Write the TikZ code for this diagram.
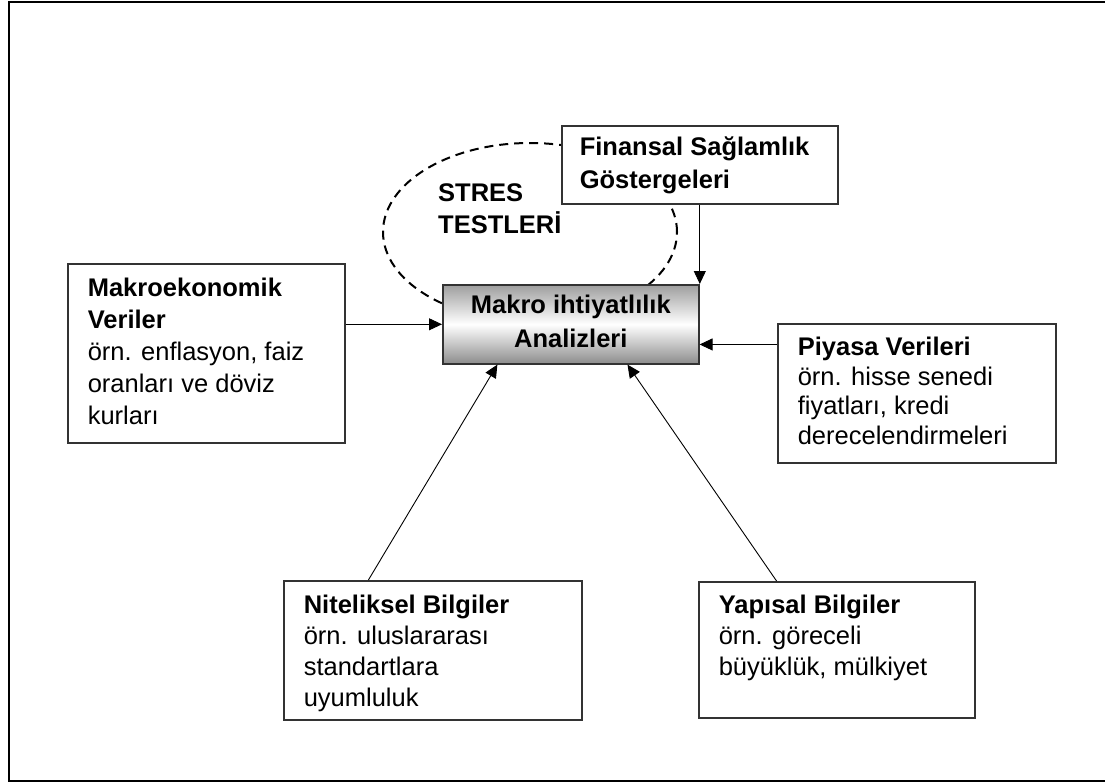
\documentclass[tikz,border=0pt]{standalone}
\usepackage{fontspec}
\setmainfont{Liberation Sans}
\usetikzlibrary{arrows.meta,calc}

% body of a text panel: width, height, first-baseline strut, lines
\newcommand{\panelbody}[4]{%
  \parbox[c][#2][t]{#1}{\raggedright\rule{0pt}{#3}#4}}

\tikzset{
  panel/.style={draw=black!80, line width=1.6pt, fill=white, inner sep=0pt,
    anchor=north west, font=\fontsize{25.5}{31}\selectfont},
  hub/.style={draw=black!80, line width=1.6pt, top color=black!38,
    bottom color=black!45, middle color=white, inner sep=0pt,
    anchor=north west, align=center, text depth=7pt,
    font=\bfseries\fontsize{25.5}{34}\selectfont},
  link/.style={line width=0.9pt, -{Triangle[length=13pt,width=12pt]}},
  loop/.style={line width=2pt, dash pattern=on 9pt off 6pt},
  frame/.style={line width=2.5pt}
}

\begin{document}
\begin{tikzpicture}[x=1pt, y=-1pt]
  \useasboundingbox (0,0) rectangle (1105,782);
  \clip (0,0) rectangle (1105,782);

  % outer frame
  \draw[frame] (9,1.8) rectangle (1115,781);

  % stress-test loop around the analysis box
  \draw[loop] (530,232) ellipse [x radius=147pt, y radius=89pt];
  \node[anchor=base west, inner sep=0pt, font=\bfseries\fontsize{25.5}{32}\selectfont]
    (stres) at (438,201) {\parbox[t]{160pt}{\raggedright STRES\\TESTLERİ}};

  % input panels
  \node[panel, minimum width=276pt] (fin) at (561,125)
    {\panelbody{240pt}{78pt}{30pt}{\fontsize{25.5}{33}\selectfont\textbf{Finansal Sağlamlık}\\\textbf{Göstergeleri}}};
  \node[panel, minimum width=277pt] (makro) at (67,263)
    {\panelbody{237pt}{179pt}{33pt}{\fontsize{25.5}{32}\selectfont\textbf{Makroekonomik}\\\textbf{Veriler}\\örn. enflasyon, faiz\\oranları ve döviz\\kurları}};
  \node[panel, minimum width=278pt] (piyasa) at (777,323)
    {\panelbody{238pt}{139pt}{32pt}{\fontsize{25.5}{29.5}\selectfont\textbf{Piyasa Verileri}\\örn. hisse senedi\\fiyatları, kredi\\derecelendirmeleri}};
  \node[panel, minimum width=298pt] (nit) at (283,580)
    {\panelbody{258pt}{139pt}{33pt}{\textbf{Niteliksel Bilgiler}\\örn. uluslararası\\standartlara\\uyumluluk}};
  \node[panel, minimum width=276pt] (yap) at (698,581)
    {\panelbody{236pt}{136pt}{32pt}{\textbf{Yapısal Bilgiler}\\örn. göreceli\\büyüklük, mülkiyet}};

  % central analysis box
  \node[hub, minimum width=256pt, minimum height=79pt] (hub) at (442,284)
    {Makro ihtiyatlılık\\Analizleri};

  % connectors
  \coordinate (hubE) at ($(hub.south east)!0.25!(hub.north east)$);
  \coordinate (nitTop) at ($(nit.north west)!0.285!(nit.north east)$);
  \coordinate (hubSW) at ($(hub.south west)!0.215!(hub.south east)$);
  \coordinate (yapTop) at ($(yap.north west)!0.283!(yap.north east)$);
  \coordinate (hubSE) at ($(hub.south west)!0.72!(hub.south east)$);

  \draw[link] (fin.south) -- (fin.south |- hub.north);
  \draw[link] (makro.east |- hub.west) -- (hub.west);
  \draw[link] (piyasa.west |- hubE) -- (hubE);
  \draw[link] (nitTop) -- (hubSW);
  \draw[link] (yapTop) -- (hubSE);
\end{tikzpicture}
\end{document}
